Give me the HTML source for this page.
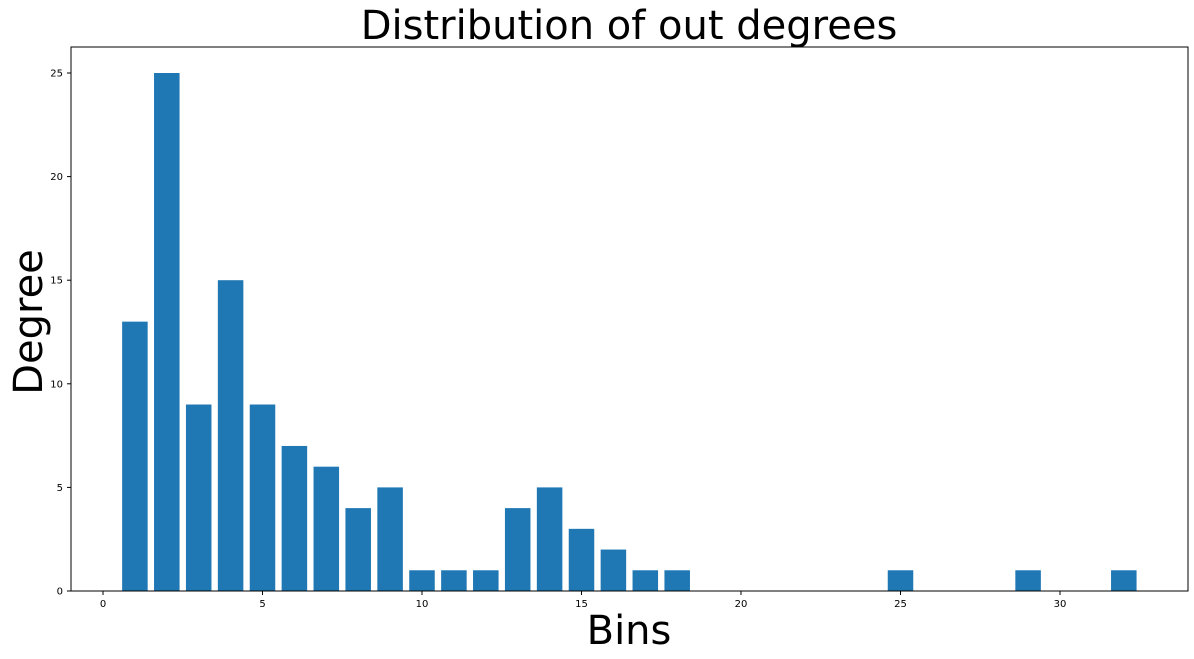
<!DOCTYPE html>
<html><head><meta charset="utf-8"><style>
html,body{margin:0;padding:0;background:#fff;}
svg{display:block;font-family:"DejaVu Sans","Liberation Sans",sans-serif;}
</style></head><body>
<svg id="chart" width="1194" height="659" xmlns="http://www.w3.org/2000/svg">
<rect width="1194" height="659" fill="#fff"/>
<text x="629" y="39" font-size="40" text-anchor="middle" fill="#000">Distribution of out degrees</text>
<text x="629" y="644" font-size="40" text-anchor="middle" fill="#000">Bins</text>
<text transform="translate(42,322) rotate(-90)" font-size="40" text-anchor="middle" fill="#000">Degree</text>
<g id="bars"></g>
<g id="xticks"></g>
<g id="yticks"></g>
<rect x="71" y="47" width="1117" height="544" fill="none" stroke="#000" stroke-width="1"/>
</svg>
<script>
const categories = [1,2,3,4,5,6,7,8,9,10,11,12,13,14,15,16,17,18,25,29,32];
const values = [13,25,9,15,9,7,6,4,5,1,1,1,4,5,3,2,1,1,1,1,1];
const xTickLabels = [0,5,10,15,20,25,30];
const yTickLabels = [0,5,10,15,20,25];

const NS = "http://www.w3.org/2000/svg";
const X0 = 103, XS = 31.9;
const Y0 = 591, YS = 20.72;
function xScale(v){ return X0 + v*XS; }
function yScale(v){ return Y0 - v*YS; }

const bars = document.getElementById('bars');
categories.forEach((c,i)=>{
  const r = document.createElementNS(NS,'rect');
  const w = 0.8*XS;
  r.setAttribute('x', xScale(c)-w/2);
  r.setAttribute('y', yScale(values[i]));
  r.setAttribute('width', w);
  r.setAttribute('height', Y0 - yScale(values[i]));
  r.setAttribute('fill', '#1f77b4');
  
  
  bars.appendChild(r);
});

const xt = document.getElementById('xticks');
xTickLabels.forEach(v=>{
  const x = xScale(v);
  const l = document.createElementNS(NS,'line');
  l.setAttribute('x1',x); l.setAttribute('x2',x);
  l.setAttribute('y1',591); l.setAttribute('y2',595);
  l.setAttribute('stroke','#000');
  
  
  xt.appendChild(l);
  const t = document.createElementNS(NS,'text');
  t.setAttribute('x',x); t.setAttribute('y',607);
  t.setAttribute('font-size','10'); t.setAttribute('text-anchor','middle');
  t.textContent = v;
  
  
  xt.appendChild(t);
});

const yt = document.getElementById('yticks');
yTickLabels.forEach(v=>{
  const y = yScale(v);
  const l = document.createElementNS(NS,'line');
  l.setAttribute('x1',67); l.setAttribute('x2',71);
  l.setAttribute('y1',y); l.setAttribute('y2',y);
  l.setAttribute('stroke','#000');
  
  
  yt.appendChild(l);
  const t = document.createElementNS(NS,'text');
  t.setAttribute('x',63); t.setAttribute('y',y+3.5);
  t.setAttribute('font-size','10'); t.setAttribute('text-anchor','end');
  t.textContent = v;
  
  
  yt.appendChild(t);
});
</script>
</body></html>
